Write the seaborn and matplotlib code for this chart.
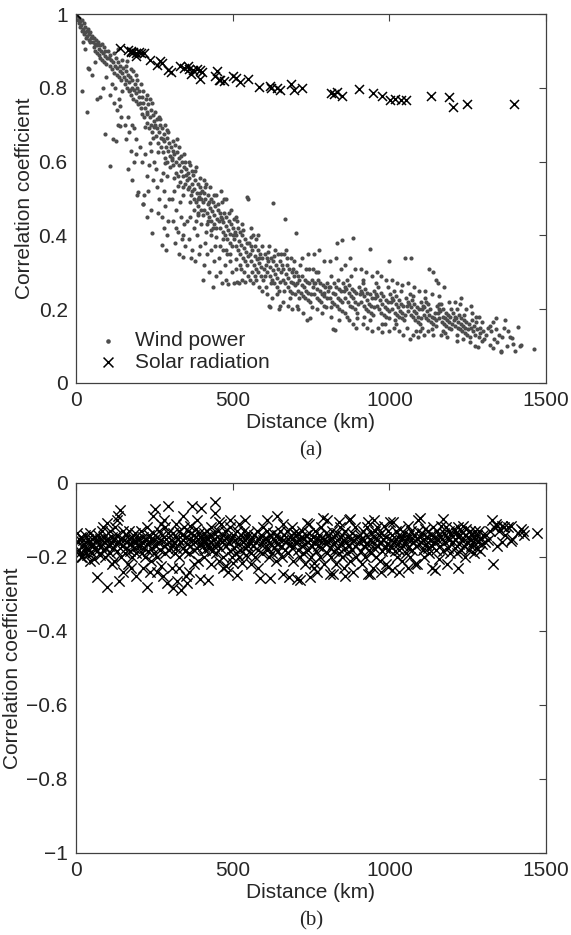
import matplotlib
matplotlib.use("Agg")
import matplotlib.pyplot as plt
import seaborn as sns
import pandas as pd

# wind power correlation vs distance in bands of distance (km, r)
wind_0_100 = [(3,0.995),(5,0.985),(8,0.99),(10,0.975),(12,0.98),(14,0.965),(16,0.97),(18,0.985),(20,0.955),
    (22,0.96),(24,0.975),(26,0.945),(28,0.95),(30,0.965),(32,0.935),(34,0.955),(36,0.94),(38,0.96),(40,0.93),
    (42,0.945),(44,0.925),(46,0.95),(48,0.935),(22,0.924),(20,0.79),(35,0.734),(41,0.85),(38,0.854),(30,0.905),
    (52,0.94),(54,0.925),(56,0.91),(58,0.935),(60,0.92),(62,0.9),(64,0.93),(66,0.915),(68,0.895),(70,0.925),
    (72,0.905),(74,0.89),(76,0.915),(78,0.88),(80,0.9),(82,0.92),(84,0.875),(86,0.895),(88,0.91),(90,0.87),
    (92,0.885),(94,0.9),(96,0.865),(98,0.88),(51,0.835),(66,0.77),(78,0.775),(93,0.676),(85,0.80),(95,0.83),(60,0.87)]
wind_100_200 = [(102,0.9),(105,0.88),(108,0.86),(110,0.89),(112,0.875),(115,0.85),(118,0.87),(120,0.895),(122,0.84),
    (125,0.86),(128,0.88),(130,0.835),(132,0.855),(135,0.87),(138,0.83),(140,0.845),(142,0.86),(145,0.82),(148,0.84),
    (150,0.855),(107,0.588),(118,0.66),(128,0.656),(142,0.697),(110,0.78),(120,0.76),(125,0.80),(132,0.74),(138,0.77),
    (145,0.72),(148,0.79),(115,0.81),(135,0.70),(140,0.75),
    (152,0.83),(155,0.81),(158,0.845),(160,0.82),(162,0.80),(165,0.835),(168,0.79),(170,0.815),(172,0.83),(175,0.78),
    (178,0.80),(180,0.82),(182,0.77),(185,0.795),(188,0.81),(190,0.765),(192,0.785),(195,0.80),(198,0.755),(200,0.775),
    (160,0.86),(175,0.85),(190,0.835),(155,0.70),(160,0.66),(165,0.72),(170,0.68),(175,0.63),(180,0.70),(185,0.60),
    (190,0.66),(195,0.51),(197,0.517),(165,0.58),(178,0.55),(192,0.62),(185,0.69)]
wind_200_300 = [(202,0.79),(205,0.76),(208,0.745),(210,0.775),(212,0.73),(215,0.76),(218,0.72),(220,0.745),(222,0.77),
    (225,0.705),(228,0.735),(230,0.755),(232,0.69),(235,0.72),(238,0.74),(240,0.70),(242,0.68),(245,0.725),(248,0.695),
    (250,0.71),(215,0.79),(228,0.78),(244,0.76),(205,0.64),(210,0.60),(214,0.484),(215,0.485),(217,0.51),(220,0.62),
    (225,0.56),(230,0.52),(232,0.59),(235,0.65),(240,0.47),(242,0.407),(245,0.55),(248,0.60),(238,0.63),(226,0.45),
    (252,0.70),(255,0.67),(258,0.69),(260,0.715),(262,0.65),(265,0.68),(268,0.70),(270,0.64),(272,0.665),(275,0.69),
    (278,0.625),(280,0.655),(282,0.675),(285,0.61),(288,0.64),(290,0.665),(292,0.60),(295,0.63),(298,0.65),(300,0.615),
    (265,0.72),(285,0.70),(295,0.68),(255,0.58),(260,0.53),(265,0.50),(270,0.55),(273,0.373),(275,0.45),(280,0.42),
    (282,0.52),(285,0.48),(290,0.40),(292,0.56),(295,0.44),(298,0.50),(262,0.46),(288,0.36),(278,0.57)]
wind_300_400 = [(302,0.64),(305,0.61),(308,0.63),(310,0.59),(312,0.62),(315,0.645),(318,0.57),(320,0.60),(322,0.625),
    (325,0.56),(328,0.59),(330,0.61),(332,0.545),(335,0.575),(338,0.60),(340,0.53),(342,0.56),(345,0.585),(348,0.54),
    (350,0.565),(310,0.655),(328,0.64),(345,0.62),(305,0.50),(310,0.44),(315,0.38),(320,0.47),(325,0.41),(330,0.35),
    (335,0.45),(338,0.39),(341,0.342),(345,0.43),(348,0.37),(312,0.52),(332,0.49),(318,0.42),(340,0.40),
    (352,0.58),(355,0.55),(358,0.57),(360,0.53),(362,0.555),(365,0.59),(368,0.51),(370,0.54),(372,0.565),(375,0.50),
    (378,0.525),(380,0.55),(382,0.49),(385,0.515),(388,0.54),(390,0.48),(392,0.505),(395,0.53),(398,0.47),(400,0.50),
    (362,0.60),(380,0.575),(396,0.555),(370,0.52),(388,0.50),(355,0.44),(360,0.39),(365,0.45),(370,0.36),(375,0.42),
    (380,0.33),(385,0.40),(390,0.46),(395,0.37),(398,0.43),(366,0.34),(384,0.44),(392,0.35)]
wind_400_500 = [(402,0.52),(405,0.49),(408,0.515),(410,0.47),(412,0.50),(415,0.54),(418,0.46),(420,0.485),(422,0.51),
    (425,0.45),(428,0.475),(430,0.50),(432,0.44),(435,0.465),(438,0.49),(440,0.43),(442,0.455),(445,0.48),(448,0.42),
    (450,0.445),(410,0.55),(428,0.53),(446,0.51),(420,0.44),(436,0.42),(405,0.28),(408,0.32),(412,0.38),(418,0.35),
    (425,0.30),(430,0.40),(437,0.26),(440,0.33),(445,0.37),(448,0.29),(415,0.41),(432,0.36),
    (452,0.47),(455,0.44),(458,0.46),(460,0.42),(462,0.45),(465,0.49),(468,0.41),(470,0.435),(472,0.46),(475,0.40),
    (478,0.425),(480,0.45),(482,0.39),(485,0.415),(488,0.44),(490,0.38),(492,0.405),(495,0.43),(498,0.37),(500,0.40),
    (462,0.52),(480,0.50),(496,0.47),(470,0.39),(455,0.34),(460,0.30),(468,0.36),(475,0.32),(480,0.28),(486,0.268),
    (492,0.33),(498,0.30),(465,0.27),(482,0.35)]
wind_500_700 = [(502,0.42),(505,0.39),(508,0.41),(510,0.37),(512,0.40),(515,0.44),(518,0.36),(520,0.385),(522,0.41),
    (525,0.35),(528,0.375),(530,0.40),(532,0.34),(535,0.365),(538,0.39),(540,0.33),(542,0.355),(545,0.38),(548,0.5),
    (545,0.504),(550,0.345),(510,0.45),(530,0.43),(505,0.27),(515,0.275),(520,0.27),(530,0.28),(540,0.275),(548,0.29),
    (512,0.31),(535,0.30),(525,0.32),
    (552,0.38),(555,0.35),(558,0.37),(560,0.33),(562,0.36),(565,0.40),(568,0.32),(570,0.345),(572,0.37),(575,0.31),
    (578,0.335),(580,0.36),(582,0.30),(585,0.325),(588,0.35),(590,0.29),(592,0.315),(595,0.34),(598,0.28),(600,0.31),
    (560,0.42),(580,0.40),(555,0.28),(565,0.27),(575,0.28),(585,0.26),(595,0.25),(570,0.29),
    (602,0.35),(605,0.32),(608,0.34),(610,0.30),(612,0.33),(615,0.37),(618,0.29),(620,0.315),(622,0.34),(625,0.28),
    (628,0.305),(630,0.33),(632,0.27),(635,0.295),(638,0.32),(640,0.26),(642,0.285),(645,0.31),(648,0.25),(650,0.275),
    (616,0.209),(618,0.206),(629,0.488),(647,0.2),(650,0.21),(610,0.24),(625,0.23),(635,0.36),(645,0.35),(605,0.26),
    (652,0.33),(655,0.30),(658,0.32),(660,0.28),(662,0.31),(665,0.35),(667,0.444),(668,0.27),(670,0.295),(672,0.32),
    (675,0.26),(678,0.285),(680,0.31),(682,0.25),(685,0.275),(688,0.30),(690,0.245),(692,0.27),(695,0.29),(698,0.24),
    (700,0.265),(701,0.406),(660,0.22),(675,0.21),(690,0.20),(670,0.36),(685,0.34),(695,0.33)]
wind_700_900 = [(702,0.30),(705,0.27),(708,0.29),(710,0.25),(712,0.28),(715,0.32),(718,0.245),(720,0.265),(722,0.29),
    (725,0.235),(728,0.26),(730,0.28),(732,0.23),(735,0.25),(738,0.275),(740,0.225),(742,0.245),(745,0.27),(747,0.176),
    (748,0.22),(750,0.24),(710,0.20),(725,0.19),(737,0.172),(740,0.35),(720,0.34),(745,0.31),(705,0.21),
    (752,0.28),(755,0.26),(758,0.27),(760,0.24),(762,0.27),(765,0.30),(768,0.23),(770,0.255),(772,0.28),(775,0.225),
    (778,0.25),(780,0.27),(782,0.22),(785,0.24),(788,0.265),(790,0.21),(792,0.235),(795,0.26),(798,0.205),(800,0.23),
    (760,0.35),(775,0.36),(790,0.33),(785,0.19),(770,0.20),(755,0.31),
    (802,0.27),(805,0.25),(808,0.26),(810,0.23),(812,0.26),(815,0.29),(818,0.22),(820,0.245),(822,0.27),(825,0.215),
    (827,0.143),(828,0.24),(830,0.26),(833,0.379),(832,0.21),(835,0.23),(838,0.255),(840,0.20),(842,0.225),(845,0.25),
    (848,0.195),(850,0.388),(850,0.22),(820,0.146),(810,0.33),(830,0.34),(845,0.31),(815,0.18),(840,0.17),
    (852,0.27),(855,0.25),(858,0.26),(860,0.23),(862,0.255),(865,0.28),(868,0.22),(870,0.245),(872,0.265),(875,0.21),
    (878,0.235),(880,0.255),(882,0.205),(884,0.393),(885,0.23),(888,0.25),(890,0.20),(892,0.22),(895,0.245),(898,0.19),
    (900,0.215),(860,0.32),(875,0.34),(890,0.31),(870,0.17),(885,0.16),(895,0.15),(865,0.18)]
wind_900_1100 = [(902,0.26),(905,0.24),(908,0.25),(910,0.22),(912,0.245),(915,0.27),(918,0.21),(920,0.235),(922,0.255),
    (925,0.20),(928,0.225),(930,0.245),(932,0.195),(935,0.215),(937,0.362),(938,0.24),(940,0.19),(942,0.21),(945,0.23),
    (948,0.185),(950,0.205),(910,0.31),(925,0.30),(945,0.29),(915,0.16),(930,0.15),(945,0.14),(920,0.18),
    (952,0.25),(955,0.23),(958,0.24),(960,0.21),(962,0.235),(965,0.26),(968,0.20),(970,0.225),(972,0.245),(975,0.19),
    (976,0.138),(978,0.215),(980,0.235),(982,0.185),(985,0.205),(988,0.225),(990,0.18),(992,0.20),(995,0.22),(998,0.175),
    (1000,0.195),(960,0.30),(975,0.29),(990,0.28),(965,0.15),(985,0.16),(998,0.14),(1000,0.33),
    (1002,0.24),(1005,0.22),(1008,0.23),(1010,0.20),(1012,0.225),(1015,0.25),(1018,0.19),(1020,0.215),(1022,0.235),
    (1025,0.185),(1028,0.205),(1030,0.225),(1032,0.18),(1035,0.195),(1038,0.215),(1040,0.175),(1042,0.19),(1045,0.21),
    (1048,0.17),(1050,0.34),(1050,0.185),(1010,0.28),(1025,0.27),(1040,0.265),(1015,0.15),(1030,0.14),(1045,0.13),
    (1020,0.16),
    (1052,0.23),(1055,0.21),(1058,0.22),(1060,0.195),(1062,0.215),(1065,0.24),(1068,0.34),(1068,0.185),(1070,0.205),
    (1072,0.225),(1075,0.18),(1078,0.195),(1080,0.215),(1082,0.17),(1085,0.19),(1088,0.205),(1090,0.165),(1092,0.18),
    (1095,0.20),(1098,0.16),(1100,0.175),(1066,0.12),(1075,0.13),(1090,0.125),(1060,0.27),(1080,0.26),(1095,0.25),
    (1085,0.14)]
wind_1100_1500 = [(1102,0.22),(1105,0.20),(1108,0.21),(1110,0.185),(1112,0.205),(1115,0.23),(1118,0.175),(1120,0.195),
    (1122,0.215),(1125,0.17),(1127,0.31),(1128,0.185),(1130,0.20),(1132,0.165),(1135,0.18),(1138,0.30),(1140,0.16),
    (1142,0.175),(1145,0.19),(1148,0.155),(1150,0.28),(1150,0.17),(1110,0.13),(1125,0.14),(1140,0.13),(1115,0.25),
    (1135,0.24),(1105,0.15),
    (1152,0.21),(1155,0.27),(1155,0.19),(1158,0.20),(1160,0.175),(1162,0.195),(1165,0.215),(1168,0.165),(1170,0.18),
    (1172,0.20),(1175,0.26),(1175,0.16),(1178,0.175),(1180,0.19),(1182,0.155),(1185,0.17),(1188,0.185),(1190,0.15),
    (1192,0.165),(1195,0.18),(1198,0.145),(1200,0.16),(1183,0.125),(1165,0.13),(1160,0.235),(1190,0.22),(1170,0.14),
    (1202,0.19),(1205,0.17),(1208,0.18),(1210,0.155),(1212,0.175),(1215,0.20),(1218,0.15),(1220,0.165),(1222,0.185),
    (1225,0.145),(1228,0.16),(1230,0.175),(1232,0.14),(1235,0.155),(1238,0.17),(1240,0.135),(1242,0.15),(1245,0.165),
    (1248,0.13),(1250,0.145),(1210,0.22),(1225,0.215),(1245,0.20),(1215,0.13),(1235,0.12),(1230,0.23),
    (1255,0.16),(1257,0.11),(1260,0.15),(1265,0.17),(1268,0.14),(1270,0.155),(1275,0.13),(1278,0.165),(1280,0.145),
    (1283,0.098),(1285,0.125),(1288,0.15),(1290,0.135),(1295,0.115),(1298,0.14),(1302,0.12),(1265,0.19),(1285,0.18),
    (1260,0.21),(1295,0.165),(1275,0.10),
    (1310,0.13),(1315,0.15),(1321,0.103),(1325,0.14),(1331,0.165),(1335,0.12),(1340,0.145),(1345,0.11),(1350,0.13),
    (1357,0.087),(1360,0.125),(1365,0.15),(1369,0.17),(1375,0.10),(1384,0.126),(1391,0.122),(1395,0.105),(1401,0.087),
    (1411,0.152),(1417,0.10),(1419,0.102),(1462,0.092),(1355,0.084),(1340,0.175),(1320,0.155),(1380,0.14),(1330,0.095)]
# extra dots filling the denser parts of the band
wind_extra = [(133,0.905),(147,0.875),(163,0.872),(171,0.795),(183,0.845),(196,0.82),(207,0.81),(219,0.695),
    (227,0.73),(236,0.77),(247,0.665),(253,0.735),(261,0.625),(269,0.715),(277,0.66),(283,0.595),(291,0.685),
    (299,0.585),(307,0.605),(314,0.555),(321,0.66),(327,0.535),(336,0.615),(343,0.51),(349,0.6),(357,0.525),
    (363,0.49),(369,0.575),(377,0.47),(383,0.585),(389,0.455),(397,0.515),(404,0.455),(411,0.53),(417,0.43),
    (423,0.49),(431,0.415),(439,0.51),(447,0.395),(453,0.485),(461,0.37),(467,0.445),(473,0.5),(479,0.36),
    (487,0.46),(493,0.35),(503,0.445),(511,0.335),(517,0.42),(527,0.31),(533,0.415),(547,0.32),(557,0.395),
    (563,0.30),(573,0.39),(583,0.34),(593,0.37),(603,0.29),(613,0.355),(623,0.27),(633,0.345),(643,0.24),
    (653,0.35),(663,0.25),(673,0.34),(683,0.23),(693,0.31),(713,0.23),(733,0.31),(753,0.205),(773,0.30),
    (793,0.245),(813,0.205),(837,0.28),(857,0.19),(877,0.29),(897,0.175),(917,0.28),(937,0.17),(957,0.27),
    (977,0.16),(997,0.26),(1017,0.17),(1037,0.25),(1057,0.15),(1077,0.235),(1097,0.14),(1117,0.22),(1137,0.145),
    (1157,0.215),(1177,0.135),(1197,0.20),(1217,0.115),(1237,0.185),(1257,0.125),(1277,0.18)]

solar_km = [0, 142, 165, 174, 182, 190, 200, 209, 217, 190, 176, 235, 260, 269, 275, 295, 304, 333, 345, 356,
            362, 374, 385, 397, 403, 368, 395, 443, 450, 455, 461, 473, 502, 511, 525, 548, 585, 618, 623, 641,
            652, 687, 697, 722, 815, 824, 832, 850, 902, 948, 977, 1001, 1018, 1036, 1053, 1134, 1192, 1204,
            1247, 1398]
solar_r = [1.0, 0.909, 0.902, 0.900, 0.897, 0.895, 0.897, 0.893, 0.895, 0.885, 0.897, 0.876, 0.861, 0.873, 0.867,
           0.847, 0.843, 0.858, 0.855, 0.858, 0.852, 0.847, 0.852, 0.847, 0.843, 0.838, 0.825, 0.831, 0.845, 0.822,
           0.820, 0.818, 0.831, 0.827, 0.815, 0.825, 0.802, 0.806, 0.800, 0.800, 0.795, 0.811, 0.793, 0.800, 0.785,
           0.784, 0.788, 0.779, 0.797, 0.785, 0.779, 0.767, 0.770, 0.767, 0.767, 0.779, 0.776, 0.749, 0.755, 0.755]

# panel (b): cross correlation, wind power vs solar radiation (km, r)
cross_0_200 = [(2,-0.135),(5,-0.16),(8,-0.18),(10,-0.15),(12,-0.19),(15,-0.145),(18,-0.17),(20,-0.2),(22,-0.155),
    (25,-0.165),(28,-0.185),(30,-0.14),(32,-0.175),(35,-0.195),(38,-0.15),(40,-0.16),(42,-0.18),(45,-0.135),(48,-0.17),
    (50,-0.19),(52,-0.15),(55,-0.165),(58,-0.205),(60,-0.145),(62,-0.175),(65,-0.155),(66,-0.254),(68,-0.185),(70,-0.14),
    (72,-0.165),(75,-0.195),(78,-0.15),(80,-0.17),(82,-0.13),(85,-0.18),(88,-0.16),(90,-0.145),(92,-0.2),(95,-0.155),
    (98,-0.107),(99,-0.281),(97,-0.175),(15,-0.2),(45,-0.21),(85,-0.12),
    (102,-0.15),(105,-0.17),(108,-0.13),(110,-0.19),(112,-0.16),(115,-0.145),(118,-0.175),(120,-0.21),(122,-0.155),
    (125,-0.12),(128,-0.165),(130,-0.185),(132,-0.14),(135,-0.09),(137,-0.264),(138,-0.16),(140,-0.073),(142,-0.15),
    (145,-0.2),(148,-0.17),(150,-0.13),(152,-0.155),(155,-0.19),(158,-0.14),(160,-0.175),(162,-0.16),(165,-0.22),
    (168,-0.15),(170,-0.13),(172,-0.185),(175,-0.165),(178,-0.145),(180,-0.2),(182,-0.155),(185,-0.175),(188,-0.135),
    (190,-0.16),(192,-0.19),(195,-0.15),(198,-0.17),(150,-0.24),(175,-0.23),(130,-0.1),(115,-0.22),(190,-0.25)]
cross_200_400 = [(202,-0.15),(205,-0.17),(208,-0.13),(210,-0.19),(212,-0.16),(215,-0.145),(218,-0.175),(220,-0.2),
    (222,-0.155),(225,-0.281),(225,-0.12),(228,-0.165),(230,-0.185),(232,-0.14),(235,-0.16),(238,-0.21),(240,-0.15),
    (242,-0.175),(245,-0.135),(248,-0.19),(250,-0.155),(252,-0.07),(255,-0.17),(258,-0.145),(260,-0.2),(262,-0.16),
    (265,-0.13),(268,-0.18),(270,-0.155),(272,-0.225),(275,-0.14),(278,-0.25),(280,-0.17),(282,-0.1),(285,-0.19),
    (288,-0.15),(290,-0.165),(292,-0.27),(294,-0.062),(295,-0.135),(298,-0.18),(260,-0.24),(245,-0.09),(270,-0.11),
    (285,-0.12),(215,-0.23),(235,-0.24),
    (302,-0.155),(305,-0.17),(308,-0.135),(310,-0.285),(312,-0.16),(315,-0.19),(318,-0.145),(320,-0.175),(322,-0.265),
    (325,-0.15),(328,-0.13),(330,-0.2),(332,-0.16),(335,-0.29),(338,-0.14),(340,-0.175),(342,-0.155),(345,-0.12),
    (348,-0.185),(350,-0.25),(352,-0.145),(354,-0.27),(355,-0.165),(358,-0.13),(360,-0.19),(362,-0.15),(365,-0.17),
    (368,-0.135),(370,-0.062),(372,-0.155),(375,-0.18),(378,-0.14),(380,-0.16),(382,-0.125),(385,-0.175),(388,-0.15),
    (390,-0.21),(392,-0.135),(395,-0.165),(398,-0.068),(398,-0.145),(305,-0.23),(320,-0.11),(340,-0.09),(360,-0.24),
    (375,-0.22),(385,-0.1),(395,-0.26),(330,-0.23),(365,-0.115)]
cross_400_600 = [(402,-0.15),(405,-0.17),(408,-0.135),(410,-0.16),(412,-0.18),(415,-0.145),(418,-0.13),(420,-0.165),
    (421,-0.262),(422,-0.15),(425,-0.175),(428,-0.14),(430,-0.16),(432,-0.12),(435,-0.185),(438,-0.155),(440,-0.135),
    (442,-0.17),(444,-0.05),(444,-0.08),(445,-0.15),(448,-0.19),(450,-0.165),(452,-0.13),(455,-0.21),(458,-0.15),
    (460,-0.175),(462,-0.11),(465,-0.16),(468,-0.14),(470,-0.2),(472,-0.155),(475,-0.13),(478,-0.225),(480,-0.17),
    (482,-0.145),(485,-0.24),(488,-0.16),(490,-0.12),(492,-0.185),(495,-0.15),(498,-0.2),(410,-0.2),(430,-0.22),
    (455,-0.105),(470,-0.23),(490,-0.1),(500,-0.215),
    (502,-0.14),(505,-0.175),(508,-0.155),(510,-0.19),(513,-0.249),(515,-0.13),(518,-0.165),(520,-0.2),(522,-0.15),
    (525,-0.18),(528,-0.14),(530,-0.215),(532,-0.16),(535,-0.13),(538,-0.175),(540,-0.155),(542,-0.195),(545,-0.145),
    (548,-0.17),(550,-0.135),(555,-0.16),(558,-0.19),(560,-0.15),(565,-0.17),(568,-0.14),(570,-0.2),(575,-0.16),
    (578,-0.13),(580,-0.18),(585,-0.15),(587,-0.256),(590,-0.165),(592,-0.14),(595,-0.19),(598,-0.155),(520,-0.11),
    (540,-0.1),(560,-0.22),(580,-0.23),(596,-0.12)]
cross_600_800 = [(602,-0.15),(605,-0.17),(608,-0.13),(610,-0.18),(612,-0.155),(615,-0.2),(619,-0.256),(620,-0.14),
    (622,-0.165),(625,-0.19),(628,-0.15),(630,-0.135),(632,-0.175),(635,-0.155),(638,-0.21),(640,-0.14),(642,-0.165),
    (645,-0.185),(648,-0.15),(650,-0.13),(655,-0.17),(658,-0.2),(661,-0.245),(662,-0.155),(665,-0.14),(668,-0.18),
    (670,-0.16),(672,-0.13),(675,-0.19),(678,-0.15),(680,-0.255),(682,-0.165),(685,-0.14),(688,-0.175),(690,-0.15),
    (692,-0.21),(695,-0.135),(698,-0.16),(705,-0.26),(610,-0.1),(640,-0.09),(660,-0.11),(690,-0.12),
    (702,-0.14),(705,-0.16),(708,-0.18),(710,-0.135),(712,-0.155),(715,-0.262),(715,-0.2),(718,-0.145),(720,-0.17),
    (722,-0.13),(725,-0.19),(728,-0.15),(730,-0.165),(732,-0.22),(735,-0.14),(737,-0.108),(740,-0.16),(742,-0.18),
    (745,-0.135),(747,-0.254),(748,-0.155),(750,-0.2),(752,-0.17),(755,-0.145),(758,-0.215),(760,-0.16),(762,-0.13),
    (765,-0.185),(768,-0.15),(770,-0.24),(772,-0.17),(775,-0.14),(778,-0.2),(780,-0.155),(782,-0.12),(785,-0.175),
    (788,-0.095),(790,-0.15),(792,-0.22),(795,-0.16),(798,-0.135),(800,-0.19),(760,-0.23),(745,-0.11)]
cross_800_1000 = [(802,-0.1),(804,-0.16),(806,-0.14),(810,-0.245),(810,-0.175),(812,-0.15),(815,-0.2),(818,-0.13),
    (820,-0.245),(820,-0.165),(822,-0.185),(825,-0.145),(828,-0.16),(830,-0.22),(832,-0.135),(835,-0.175),(838,-0.15),
    (840,-0.19),(842,-0.12),(845,-0.165),(848,-0.14),(850,-0.2),(852,-0.155),(855,-0.23),(858,-0.175),(860,-0.13),
    (862,-0.16),(865,-0.19),(868,-0.145),(870,-0.1),(872,-0.17),(874,-0.097),(875,-0.21),(878,-0.15),(880,-0.135),
    (882,-0.18),(885,-0.24),(888,-0.155),(890,-0.12),(892,-0.17),(895,-0.2),(898,-0.145),(860,-0.25),(840,-0.105),
    (902,-0.16),(905,-0.14),(908,-0.185),(910,-0.15),(912,-0.22),(915,-0.13),(918,-0.17),(920,-0.155),(922,-0.2),
    (925,-0.14),(928,-0.165),(930,-0.12),(932,-0.245),(932,-0.105),(935,-0.18),(938,-0.245),(938,-0.15),(940,-0.135),
    (942,-0.19),(945,-0.16),(948,-0.23),(950,-0.145),(952,-0.175),(955,-0.13),(958,-0.2),(960,-0.155),(962,-0.12),
    (965,-0.17),(968,-0.14),(970,-0.21),(972,-0.16),(975,-0.135),(978,-0.185),(980,-0.15),(982,-0.115),(985,-0.175),
    (988,-0.22),(990,-0.145),(992,-0.165),(995,-0.13),(996,-0.227),(998,-0.18),(950,-0.1),(975,-0.24)]
cross_1000_1500 = [(1002,-0.105),(1004,-0.155),(1006,-0.17),(1008,-0.235),(1010,-0.14),(1012,-0.105),(1014,-0.16),
    (1018,-0.185),(1020,-0.13),(1022,-0.15),(1025,-0.2),(1028,-0.165),(1030,-0.14),(1032,-0.18),(1035,-0.125),
    (1038,-0.155),(1040,-0.21),(1042,-0.145),(1045,-0.17),(1048,-0.135),(1050,-0.16),(1052,-0.19),(1055,-0.15),
    (1058,-0.115),(1060,-0.175),(1062,-0.14),(1065,-0.2),(1068,-0.155),(1070,-0.13),(1072,-0.18),(1075,-0.16),
    (1078,-0.14),(1082,-0.22),(1085,-0.17),(1088,-0.22),(1088,-0.15),(1090,-0.13),(1092,-0.1),(1095,-0.165),
    (1098,-0.095),(1098,-0.145),(1060,-0.23),(1030,-0.24),
    (1102,-0.16),(1105,-0.135),(1108,-0.18),(1110,-0.15),(1112,-0.2),(1115,-0.125),(1118,-0.165),(1120,-0.145),
    (1122,-0.175),(1125,-0.13),(1128,-0.19),(1130,-0.155),(1132,-0.14),(1135,-0.17),(1137,-0.23),(1140,-0.12),
    (1142,-0.16),(1146,-0.235),(1146,-0.145),(1150,-0.18),(1152,-0.13),(1155,-0.155),(1158,-0.205),(1160,-0.14),
    (1162,-0.17),(1165,-0.115),(1168,-0.15),(1171,-0.097),(1172,-0.185),(1175,-0.135),(1178,-0.16),(1180,-0.12),
    (1183,-0.219),(1185,-0.145),(1188,-0.175),(1190,-0.13),(1192,-0.155),(1195,-0.19),(1198,-0.14),
    (1202,-0.16),(1205,-0.125),(1208,-0.15),(1210,-0.175),(1212,-0.135),(1215,-0.19),(1218,-0.23),(1218,-0.145),
    (1220,-0.12),(1222,-0.165),(1225,-0.14),(1228,-0.18),(1230,-0.13),(1232,-0.155),(1235,-0.115),(1238,-0.17),
    (1240,-0.14),(1242,-0.2),(1245,-0.125),(1248,-0.16),(1250,-0.145),(1255,-0.18),(1258,-0.13),(1260,-0.155),
    (1262,-0.17),(1265,-0.14),(1268,-0.16),(1270,-0.19),(1272,-0.13),(1275,-0.15),(1278,-0.175),(1280,-0.14),
    (1282,-0.16),(1285,-0.13),(1288,-0.185),(1290,-0.15),(1295,-0.165),(1298,-0.14),
    (1305,-0.16),(1310,-0.14),(1315,-0.155),(1320,-0.13),(1327,-0.1),(1331,-0.219),(1335,-0.12),(1340,-0.11),
    (1345,-0.115),(1350,-0.13),(1358,-0.115),(1365,-0.12),(1370,-0.14),(1378,-0.12),(1387,-0.157),(1387,-0.115),
    (1392,-0.15),(1410,-0.135),(1420,-0.125),(1425,-0.13),(1430,-0.14),(1471,-0.134),(1345,-0.17),(1360,-0.16)]

wind = pd.DataFrame(wind_0_100 + wind_100_200 + wind_200_300 + wind_300_400 + wind_400_500
                    + wind_500_700 + wind_700_900 + wind_900_1100 + wind_1100_1500 + wind_extra,
                    columns=["km", "r"])
solar = pd.DataFrame({"km": solar_km, "r": solar_r})
cross = pd.DataFrame(cross_0_200 + cross_200_400 + cross_400_600 + cross_600_800
                     + cross_800_1000 + cross_1000_1500, columns=["km", "r"])

sns.set_style("white")
plt.rcParams['font.family'] = ['Liberation Sans', 'DejaVu Sans']
plt.rcParams['axes.edgecolor'] = '#404040'
plt.rcParams['axes.linewidth'] = 0.9

fs = 15
fig = plt.figure(figsize=(5.71, 9.35), dpi=100)
ax1 = fig.add_axes([76/571, 1 - 383/935, 470/571, 369/935])
ax2 = fig.add_axes([76/571, 1 - 853/935, 470/571, 370/935])

sns.scatterplot(data=wind, x="km", y="r", ax=ax1, color="#4d4d4d", s=9, linewidth=0,
                label="Wind power")
sns.scatterplot(data=solar, x="km", y="r", ax=ax1, color="black", marker="x", s=42,
                linewidth=1.1, label="Solar radiation")
ax1.set_ylim(0, 1)
ax1.set_yticks([0, 0.2, 0.4, 0.6, 0.8, 1])
ax1.set_yticklabels(["0", "0.2", "0.4", "0.6", "0.8", "1"])
ax1.legend(loc="lower left", frameon=False, fontsize=fs, handletextpad=0.3,
           borderaxespad=0.15, labelspacing=0.1, markerscale=1.1)

sns.scatterplot(data=cross, x="km", y="r", ax=ax2, color="black", marker="x", s=55,
                linewidth=1.0, legend=False)
ax2.set_ylim(-1, 0)
ax2.set_yticks([-1, -0.8, -0.6, -0.4, -0.2, 0])
ax2.set_yticklabels(["\u22121", "\u22120.8", "\u22120.6", "\u22120.4", "\u22120.2", "0"])

for ax, cap in [(ax1, "(a)"), (ax2, "(b)")]:
    ax.set_xlim(0, 1500)
    ax.set_xticks([0, 500, 1000, 1500])
    ax.set_xticklabels(["0", "500", "1000", "1500"])
    ax.tick_params(direction="in", length=5, width=0.8, color="#404040", top=True, right=True,
                   labelsize=fs, pad=6)
    ax.set_xlabel("Distance (km)", fontsize=fs, labelpad=2)
    ax.set_ylabel("Correlation coefficient", fontsize=fs, labelpad=3)
    for sp in ax.spines.values():
        sp.set_visible(True)
    ax.text(0.5, -68 / 370, cap, transform=ax.transAxes, ha="center", va="center",
            fontsize=fs, family="Liberation Serif")

fig.savefig("out.png", dpi=100)
